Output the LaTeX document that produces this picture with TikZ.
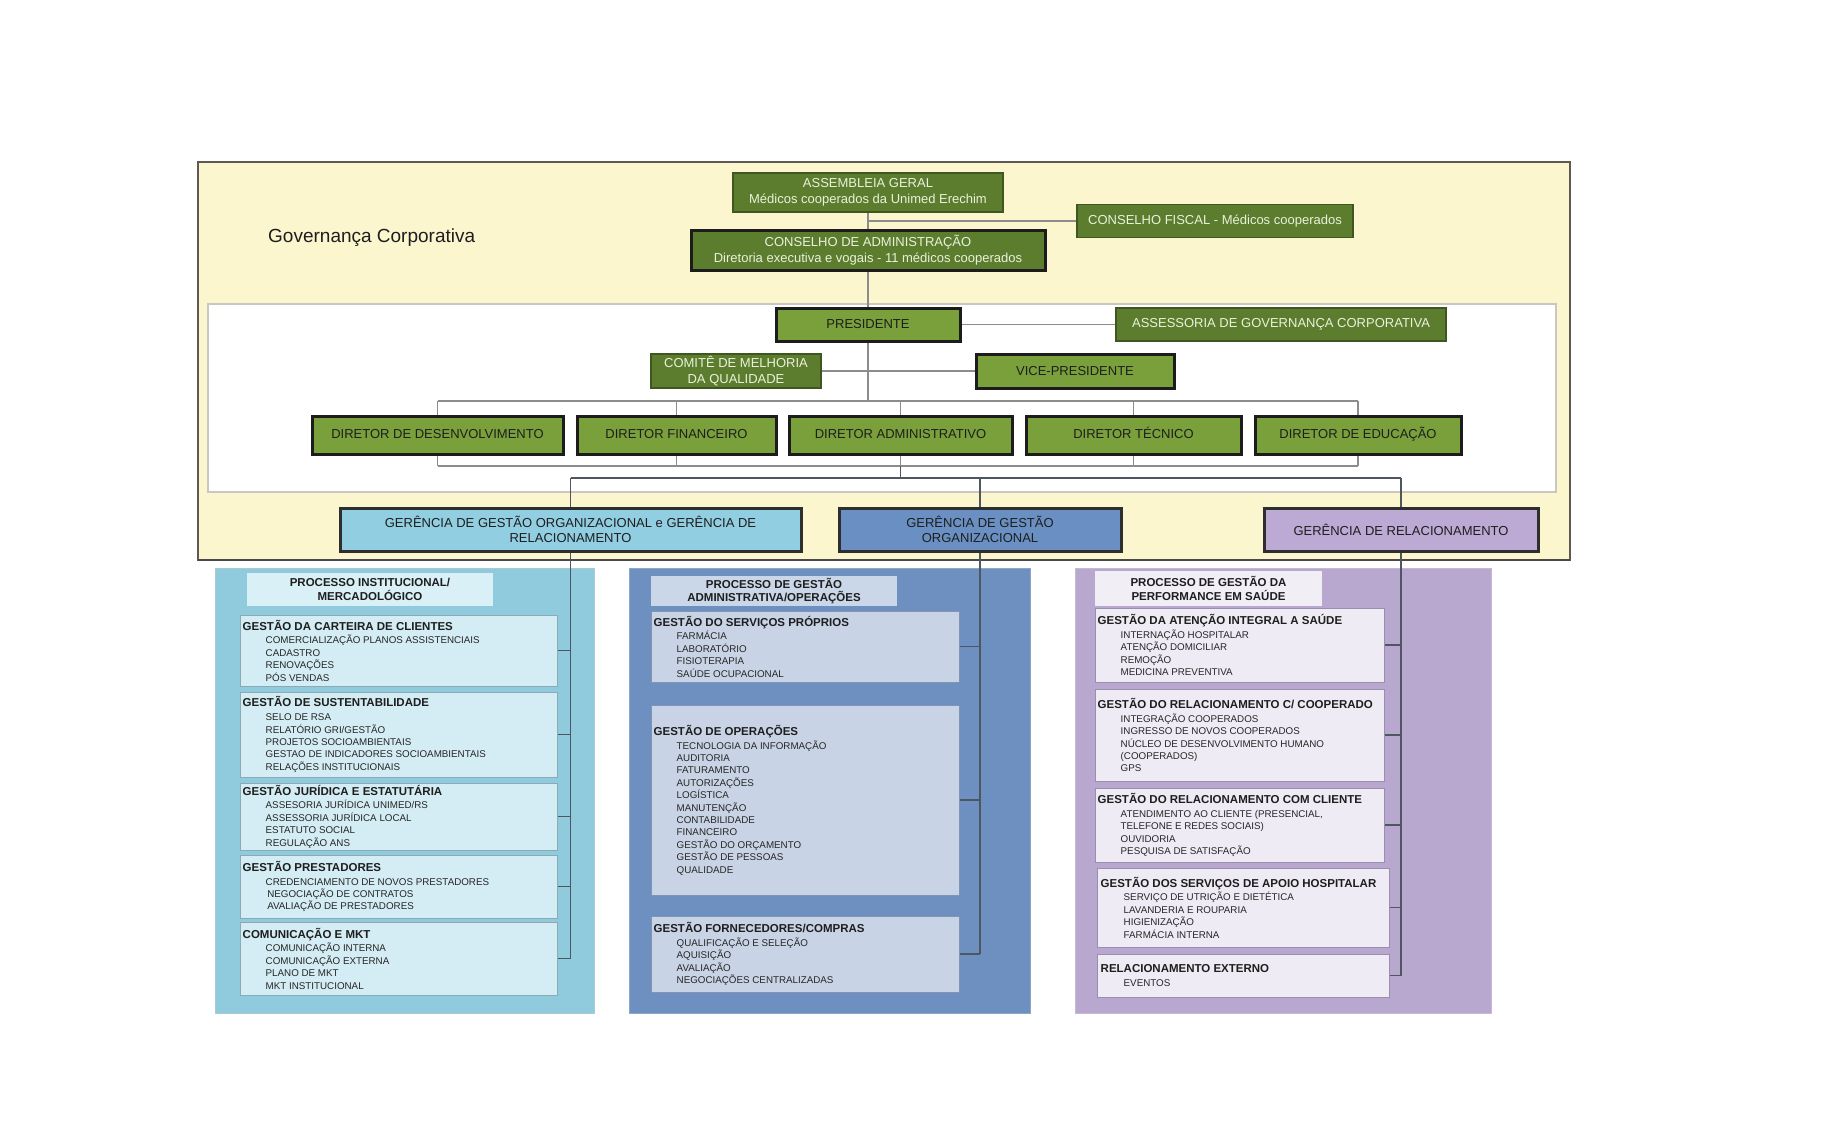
\documentclass[tikz,border=0pt]{standalone}
\usepackage{fontspec}
\setmainfont{Liberation Sans}
\definecolor{YEL}{HTML}{FCF6CF}
\definecolor{YELB}{HTML}{5C5A52}
\definecolor{WBB}{HTML}{C8C8C0}
\definecolor{GD}{HTML}{5C7D2E}
\definecolor{GDB}{HTML}{3F5620}
\definecolor{GL}{HTML}{79A03A}
\definecolor{BK}{HTML}{1C1C1C}
\definecolor{GT}{HTML}{EAF1DC}
\definecolor{DT}{HTML}{1E1E1E}
\definecolor{IT}{HTML}{262626}
\definecolor{GB}{HTML}{2E2E2E}
\definecolor{GA}{HTML}{92CEE1}
\definecolor{GBL}{HTML}{6A90C3}
\definecolor{GC}{HTML}{BCAAD4}
\definecolor{CA}{HTML}{8FCBDC}
\definecolor{CAB}{HTML}{A9C9D3}
\definecolor{CB}{HTML}{6D90C0}
\definecolor{CBB}{HTML}{8FA7C6}
\definecolor{CC}{HTML}{B8A7CE}
\definecolor{CCB}{HTML}{C4B8D4}
\definecolor{SA}{HTML}{D4ECF4}
\definecolor{SAB}{HTML}{8CAAB5}
\definecolor{SB}{HTML}{C8D4E6}
\definecolor{SBB}{HTML}{7F95B3}
\definecolor{SC}{HTML}{EFEBF4}
\definecolor{SCB}{HTML}{9A8DAE}
\definecolor{HA}{HTML}{D9F0F7}
\definecolor{HB}{HTML}{CAD7E9}
\definecolor{HC}{HTML}{F1EEF6}
\definecolor{LG}{HTML}{8C8C8C}
\definecolor{LD}{HTML}{4E5660}
\pgfdeclarelayer{bg}
\pgfdeclarelayer{ln}
\pgfsetlayers{bg,ln,main}
\newcommand{\subttl}[1]{{\fontsize{11.5}{12.4}\selectfont\bfseries\color{DT}#1}}
\newcommand{\subitm}[1]{\hspace*{23pt}#1}
\tikzset{
  base/.style={rectangle, inner sep=2pt, align=center, font=\fontsize{13}{15.5}\selectfont},
  gdark/.style={base, fill=GD, draw=GDB, line width=1.2pt, text=GT},
  gdarkthick/.style={base, fill=GD, draw=BK, line width=3pt, text=GT},
  glight/.style={base, fill=GL, draw=BK, line width=3pt, text=DT},
  dirbox/.style={glight, minimum height=38, text height=9.5pt, text depth=2.5pt},
  ger/.style={base, draw=GB, line width=3pt, text=DT},
  hdr/.style={rectangle, inner sep=0pt, align=center, font=\fontsize{11.5}{13.5}\selectfont\bfseries, text=DT},
  sub/.style={rectangle, inner sep=0pt, line width=1pt},
  subtxt/.style={inner sep=0pt, align=left, anchor=west, font=\fontsize{9.8}{12.4}\selectfont, text=IT},
  gline/.style={draw=LG, line width=1.3pt},
  dline/.style={draw=LD, line width=1.1pt},
}
\begin{document}
\begin{tikzpicture}[x=1pt,y=-1pt]
\useasboundingbox (0,0) rectangle (1824,1140);

% ---------- governance nodes
\node[font=\fontsize{19}{22}\selectfont, text=DT, anchor=west, inner sep=0pt] (gov) at (268,238) {Governança Corporativa};

\node[gdark, minimum width=270, minimum height=39] (asm) at (868,192.5) {ASSEMBLEIA GERAL\\Médicos cooperados da Unimed Erechim};
\node[gdarkthick, minimum width=354, minimum height=40] (cadm) at (868,250) {CONSELHO DE ADMINISTRAÇÃO\\Diretoria executiva e vogais - 11 médicos cooperados};
\node[gdark, minimum width=276, minimum height=33] (cfis) at (1215,221) {CONSELHO FISCAL - Médicos cooperados};

\node[glight, minimum width=184, minimum height=33] (pres) at (868,324.5) {PRESIDENTE};
\node[gdark, minimum width=330, minimum height=33] (assess) at (1281,324.5) {ASSESSORIA DE GOVERNANÇA CORPORATIVA};
\node[gdark, minimum width=170, minimum height=34] (comite) at (736,371) {COMITÊ DE MELHORIA\\DA QUALIDADE};
\node[glight, minimum width=198, minimum height=34] (vice) at (1075,371) {VICE-PRESIDENTE};

\node[dirbox, minimum width=251] (d1) at (437.5,435) {DIRETOR DE DESENVOLVIMENTO};
\node[dirbox, minimum width=199] (d2) at (676.5,435) {DIRETOR FINANCEIRO};
\node[dirbox, minimum width=223] (d3) at (900.5,435) {DIRETOR ADMINISTRATIVO};
\node[dirbox, minimum width=215] (d4) at (1133.5,435) {DIRETOR TÉCNICO};
\node[dirbox, minimum width=206] (d5) at (1358,435) {DIRETOR DE EDUCAÇÃO};

\node[ger, fill=GA, minimum width=461, minimum height=43] (g1) at (570.5,529.5) {GERÊNCIA DE GESTÃO ORGANIZACIONAL e GERÊNCIA DE\\RELACIONAMENTO};
\node[ger, fill=GBL, minimum width=282, minimum height=43] (g2) at (980,529.5) {GERÊNCIA DE GESTÃO\\ORGANIZACIONAL};
\node[ger, fill=GC, minimum width=274, minimum height=43] (g3) at (1401,529.5) {GERÊNCIA DE RELACIONAMENTO};

% ---------- process headers
\node[hdr, fill=HA, minimum width=246, minimum height=33] (h1) at (370,589.5) {PROCESSO INSTITUCIONAL/\\MERCADOLÓGICO};
\node[hdr, fill=HB, minimum width=246, minimum height=30] (h2) at (774,591) {PROCESSO DE GESTÃO\\ADMINISTRATIVA/OPERAÇÕES};
\node[hdr, fill=HC, minimum width=227, minimum height=35] (h3) at (1208.5,588.5) {PROCESSO DE GESTÃO DA\\PERFORMANCE EM SAÚDE};

% ---------- column 1 sub boxes
\node[sub, fill=SA, draw=SAB, minimum width=317, minimum height=71] (b11) at (398.5,650.5) {};
\node[sub, fill=SA, draw=SAB, minimum width=317, minimum height=85] (b12) at (398.5,734.5) {};
\node[sub, fill=SA, draw=SAB, minimum width=317, minimum height=67] (b13) at (398.5,816.5) {};
\node[sub, fill=SA, draw=SAB, minimum width=317, minimum height=63] (b14) at (398.5,886.5) {};
\node[sub, fill=SA, draw=SAB, minimum width=317, minimum height=73] (b15) at (398.5,958.5) {};
\node[subtxt] (t11) at ([xshift=3]b11.west) {\subttl{GESTÃO DA CARTEIRA DE CLIENTES}\\[1.5pt]\subitm{COMERCIALIZAÇÃO PLANOS ASSISTENCIAIS}\\\subitm{CADASTRO}\\\subitm{RENOVAÇÕES}\\\subitm{PÓS VENDAS}};
\node[subtxt] (t12) at ([xshift=3]b12.west) {\subttl{GESTÃO DE SUSTENTABILIDADE}\\[1.5pt]\subitm{SELO DE RSA}\\\subitm{RELATÓRIO GRI/GESTÃO}\\\subitm{PROJETOS SOCIOAMBIENTAIS}\\\subitm{GESTAO DE INDICADORES SOCIOAMBIENTAIS}\\\subitm{RELAÇÕES INSTITUCIONAIS}};
\node[subtxt] (t13) at ([xshift=3]b13.west) {\subttl{GESTÃO JURÍDICA E ESTATUTÁRIA}\\[1.5pt]\subitm{ASSESORIA JURÍDICA UNIMED/RS}\\\subitm{ASSESSORIA JURÍDICA LOCAL}\\\subitm{ESTATUTO SOCIAL}\\\subitm{REGULAÇÃO ANS}};
\node[subtxt] (t14) at ([xshift=3]b14.west) {\subttl{GESTÃO PRESTADORES}\\[1.5pt]\subitm{CREDENCIAMENTO DE NOVOS PRESTADORES}\\\subitm{\,NEGOCIAÇÃO DE CONTRATOS}\\\subitm{\,AVALIAÇÃO DE PRESTADORES}};
\node[subtxt] (t15) at ([xshift=3]b15.west) {\subttl{COMUNICAÇÃO E MKT}\\[1.5pt]\subitm{COMUNICAÇÃO INTERNA}\\\subitm{COMUNICAÇÃO EXTERNA}\\\subitm{PLANO DE MKT}\\\subitm{MKT INSTITUCIONAL}};

% ---------- column 2 sub boxes
\node[sub, fill=SB, draw=SBB, minimum width=308, minimum height=71] (b21) at (805,646.5) {};
\node[sub, fill=SB, draw=SBB, minimum width=308, minimum height=190] (b22) at (805,800) {};
\node[sub, fill=SB, draw=SBB, minimum width=308, minimum height=76] (b23) at (805,954) {};
\node[subtxt] (t21) at ([xshift=3]b21.west) {\subttl{GESTÃO DO SERVIÇOS PRÓPRIOS}\\[1.5pt]\subitm{FARMÁCIA}\\\subitm{LABORATÓRIO}\\\subitm{FISIOTERAPIA}\\\subitm{SAÚDE OCUPACIONAL}};
\node[subtxt] (t22) at ([xshift=3]b22.west) {\subttl{GESTÃO DE OPERAÇÕES}\\[1.5pt]\subitm{TECNOLOGIA DA INFORMAÇÃO}\\\subitm{AUDITORIA}\\\subitm{FATURAMENTO}\\\subitm{AUTORIZAÇÕES}\\\subitm{LOGÍSTICA}\\\subitm{MANUTENÇÃO}\\\subitm{CONTABILIDADE}\\\subitm{FINANCEIRO}\\\subitm{GESTÃO DO ORÇAMENTO}\\\subitm{GESTÃO DE PESSOAS}\\\subitm{QUALIDADE}};
\node[subtxt] (t23) at ([xshift=3]b23.west) {\subttl{GESTÃO FORNECEDORES/COMPRAS}\\[1.5pt]\subitm{QUALIFICAÇÃO E SELEÇÃO}\\\subitm{AQUISIÇÃO}\\\subitm{AVALIAÇÃO}\\\subitm{NEGOCIAÇÕES CENTRALIZADAS}};

% ---------- column 3 sub boxes
\node[sub, fill=SC, draw=SCB, minimum width=289, minimum height=74] (b31) at (1239.5,645) {};
\node[sub, fill=SC, draw=SCB, minimum width=289, minimum height=92] (b32) at (1239.5,735) {};
\node[sub, fill=SC, draw=SCB, minimum width=289, minimum height=74] (b33) at (1239.5,825) {};
\node[sub, fill=SC, draw=SCB, minimum width=292, minimum height=79] (b34) at (1243,907.5) {};
\node[sub, fill=SC, draw=SCB, minimum width=292, minimum height=43] (b35) at (1243,975.5) {};
\node[subtxt] (t31) at ([xshift=3]b31.west) {\subttl{GESTÃO DA ATENÇÃO INTEGRAL A SAÚDE}\\[1.5pt]\subitm{INTERNAÇÃO HOSPITALAR}\\\subitm{ATENÇÃO DOMICILIAR}\\\subitm{REMOÇÃO}\\\subitm{MEDICINA PREVENTIVA}};
\node[subtxt] (t32) at ([xshift=3]b32.west) {\subttl{GESTÃO DO RELACIONAMENTO C/ COOPERADO}\\[1.5pt]\subitm{INTEGRAÇÃO COOPERADOS}\\\subitm{INGRESSO DE NOVOS COOPERADOS}\\\subitm{NÚCLEO DE DESENVOLVIMENTO HUMANO}\\\subitm{(COOPERADOS)}\\\subitm{GPS}};
\node[subtxt] (t33) at ([xshift=3]b33.west) {\subttl{GESTÃO DO RELACIONAMENTO COM CLIENTE}\\[1.5pt]\subitm{ATENDIMENTO AO CLIENTE (PRESENCIAL,}\\\subitm{TELEFONE E REDES SOCIAIS)}\\\subitm{OUVIDORIA}\\\subitm{PESQUISA DE SATISFAÇÃO}};
\node[subtxt] (t34) at ([xshift=4]b34.west) {\subttl{GESTÃO DOS SERVIÇOS DE APOIO HOSPITALAR}\\[1.5pt]\subitm{SERVIÇO DE UTRIÇÃO E DIETÉTICA}\\\subitm{LAVANDERIA E ROUPARIA}\\\subitm{HIGIENIZAÇÃO}\\\subitm{FARMÁCIA INTERNA}};
\node[subtxt] (t35) at ([xshift=4]b35.west) {\subttl{RELACIONAMENTO EXTERNO}\\[1.5pt]\subitm{EVENTOS}};

% ---------- background panels
\begin{pgfonlayer}{bg}
  \fill[white] (0,0) rectangle (1824,1140);
  \fill[YEL] (198,162) rectangle (1570,560);
  \draw[YELB, line width=1.6pt] (198,162) rectangle (1570,560);
  \draw[BK!80, line width=2.2pt] (198,560) -- (1570,560);
  \draw[WBB, line width=1.5pt, fill=white] (208,304) rectangle (1556,492);
  \draw[CAB, fill=CA, line width=1pt] (215,568) rectangle (594,1013);
  \draw[CBB, fill=CB, line width=1pt] (629,568) rectangle (1030,1013);
  \draw[CCB, fill=CC, line width=1pt] (1075,568) rectangle (1491,1013);
\end{pgfonlayer}

% ---------- connectors
\begin{pgfonlayer}{ln}
  \coordinate (busT) at (0,401);
  \coordinate (busB) at (0,466);
  \coordinate (busG) at (0,478);
  \draw[gline] (asm.south) -- (cadm.north);
  \draw[gline] (asm.south |- cfis.west) -- (cfis.west);
  \draw[gline] (cadm.south) -- (pres.north);
  \draw[gline] (pres.east) -- (assess.west);
  \draw[gline] (pres.south) -- (pres.south |- busT);
  \draw[gline] (comite.east) -- (vice.west);
  \draw[gline] (d1.north |- busT) -- (d5.north |- busT);
  \draw[gline] (d1.south |- busB) -- (d5.south |- busB);
  \foreach \n in {d1,d2,d3,d4,d5}{
    \draw[gline] (\n.north) -- (\n.north |- busT);
    \draw[gline] (\n.south) -- (\n.south |- busB);
  }
  \draw[dline] (d3.south |- busB) -- (d3.south |- busG);
  \draw[dline] (g1.north |- busG) -- (g3.north |- busG);
  \foreach \g in {g1,g2,g3}{
    \draw[dline] (\g.north |- busG) -- (\g.north);
  }
  \draw[dline] (g1.south) -- (g1.south |- b15.east);
  \foreach \b in {b11,b12,b13,b14,b15}{
    \draw[dline] (\b.east) -- (g1.south |- \b.east);
  }
  \draw[dline] (g2.south) -- (g2.south |- b23.east);
  \foreach \b in {b21,b22,b23}{
    \draw[dline] (\b.east) -- (g2.south |- \b.east);
  }
  \draw[dline] (g3.south) -- (g3.south |- b35.east);
  \foreach \b in {b31,b32,b33,b34,b35}{
    \draw[dline] (\b.east) -- (g3.south |- \b.east);
  }
\end{pgfonlayer}
\end{tikzpicture}
\end{document}
